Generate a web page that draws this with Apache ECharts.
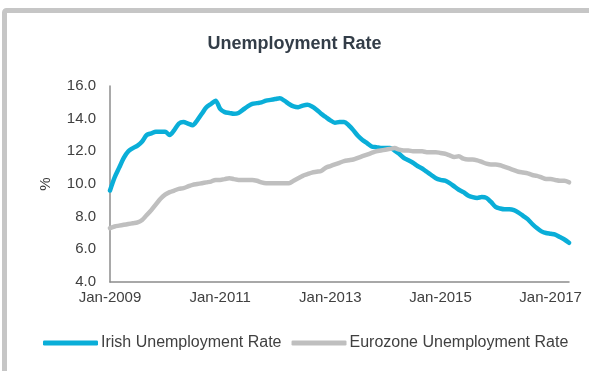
<!DOCTYPE html>
<html>
<head>
<meta charset="utf-8">
<script src="https://cdn.jsdelivr.net/npm/echarts@6/dist/echarts.min.js"></script>
<style>
  html, body { margin: 0; padding: 0; background: #fff; }
  #chart { width: 589px; height: 371px; }
</style>
</head>
<body>
<div id="chart"></div>
<script>
// Monthly unemployment rates (%), Jan-2009 to May-2017
const startYear = 2009;
const monthCount = 101;
const monthNames = ['Jan','Feb','Mar','Apr','May','Jun','Jul','Aug','Sep','Oct','Nov','Dec'];

const irishRate = [
  9.6, 10.4, 11.0, 11.6, 12.0, 12.2, 12.35, 12.6, 13.0, 13.1, 13.2, 13.2,
  13.2, 13.0, 13.3, 13.7, 13.8, 13.7, 13.6, 13.9, 14.3, 14.7, 14.9, 15.1,
  14.6, 14.4, 14.35, 14.3, 14.35, 14.55, 14.75, 14.9, 14.95, 15.0, 15.1, 15.15,
  15.2, 15.25, 15.1, 14.9, 14.75, 14.7, 14.8, 14.85, 14.75, 14.55, 14.3, 14.1,
  13.9, 13.75, 13.8, 13.8, 13.6, 13.3, 12.95, 12.7, 12.5, 12.3, 12.25, 12.2,
  12.2, 12.2, 12.05, 11.85, 11.6, 11.45, 11.3, 11.1, 10.95, 10.75, 10.55, 10.35,
  10.25, 10.2, 10.05, 9.85, 9.65, 9.5, 9.3, 9.2, 9.15, 9.2, 9.15, 8.9,
  8.6, 8.5, 8.45, 8.45, 8.4, 8.25, 8.05, 7.85, 7.55, 7.3, 7.1, 7.0,
  6.95, 6.9, 6.75, 6.6, 6.4
];

const eurozoneRate = [
  7.3, 7.4, 7.45, 7.5, 7.55, 7.6, 7.65, 7.8, 8.1, 8.4, 8.75, 9.1,
  9.35, 9.5, 9.6, 9.7, 9.75, 9.85, 9.95, 10.0, 10.05, 10.1, 10.15, 10.25,
  10.25, 10.3, 10.35, 10.3, 10.25, 10.25, 10.25, 10.25, 10.2, 10.1, 10.05, 10.05,
  10.05, 10.05, 10.05, 10.05, 10.2, 10.35, 10.5, 10.6, 10.7, 10.75, 10.8, 11.0,
  11.1, 11.2, 11.3, 11.4, 11.45, 11.5, 11.6, 11.7, 11.8, 11.9, 12.0, 12.05,
  12.1, 12.15, 12.2, 12.1, 12.05, 12.05, 12.0, 12.0, 12.0, 11.95, 11.95, 11.95,
  11.9, 11.85, 11.75, 11.65, 11.7, 11.55, 11.5, 11.5, 11.45, 11.35, 11.25, 11.2,
  11.2, 11.15, 11.05, 10.95, 10.85, 10.75, 10.7, 10.65, 10.55, 10.5, 10.4, 10.3,
  10.3, 10.25, 10.2, 10.2, 10.1
];

const seriesNames = ['Irish Unemployment Rate', 'Eurozone Unemployment Rate'];

// Month labels like "Jan-2009"
const months = [];
for (let i = 0; i < monthCount; i++) {
  months.push(monthNames[i % 12] + '-' + (startYear + Math.floor(i / 12)));
}

const chart = echarts.init(document.getElementById('chart'), null, { renderer: 'canvas' });

const labelFont = 'Liberation Sans, Arial, Helvetica, sans-serif';

chart.setOption({
  animation: false,
  backgroundColor: '#ffffff',
  graphic: [{
    type: 'rect',
    shape: { x: 4.5, y: 10.5, width: 700, height: 500, r: 2 },
    style: { fill: 'none', stroke: '#c6c6c6', lineWidth: 5 },
    silent: true
  }],
  title: {
    text: 'Unemployment Rate',
    left: 'center',
    top: 30,
    textStyle: {
      fontFamily: labelFont,
      fontSize: 18,
      fontWeight: 'bold',
      color: '#333d48'
    }
  },
  legend: {
    left: 38,
    top: 330,
    itemWidth: 55,
    itemHeight: 5,
    itemGap: 10,
    icon: 'roundRect',
    textStyle: {
      fontFamily: labelFont,
      fontSize: 16,
      color: '#404040',
      padding: [0, 0, 0, -2]
    },
    data: seriesNames
  },
  grid: {
    left: 110,
    right: 20,
    top: 86,
    bottom: 89,
    containLabel: false
  },
  xAxis: {
    type: 'category',
    data: months,
    boundaryGap: false,
    axisLine: { lineStyle: { color: '#8c8c8c', width: 1.5 } },
    axisTick: { show: false },
    axisLabel: {
      interval: 23,
      margin: 8,
      fontFamily: labelFont,
      fontSize: 15,
      color: '#404040'
    },
    splitLine: { show: false }
  },
  yAxis: {
    type: 'value',
    min: 4,
    max: 16,
    interval: 2,
    name: '%',
    nameLocation: 'middle',
    nameGap: 57,
    nameRotate: 90,
    nameTextStyle: {
      fontFamily: labelFont,
      fontSize: 15,
      color: '#333333'
    },
    axisLine: { show: true, lineStyle: { color: '#8c8c8c', width: 1.5 } },
    axisTick: { show: false },
    axisLabel: {
      margin: 14,
      fontFamily: labelFont,
      fontSize: 15,
      color: '#404040',
      formatter: v => v.toFixed(1)
    },
    splitLine: { show: false }
  },
  series: [
    {
      name: seriesNames[0],
      type: 'line',
      data: irishRate,
      showSymbol: false,
      smooth: 0.3,
      itemStyle: { color: '#0aaed8' },
      lineStyle: { color: '#0aaed8', width: 4.5, cap: 'round', join: 'round' },
      z: 2
    },
    {
      name: seriesNames[1],
      type: 'line',
      data: eurozoneRate,
      showSymbol: false,
      smooth: 0.3,
      itemStyle: { color: '#bfbfbf' },
      lineStyle: { color: '#bfbfbf', width: 4.5, cap: 'round', join: 'round' },
      z: 3
    }
  ]
});
</script>
</body>
</html>
